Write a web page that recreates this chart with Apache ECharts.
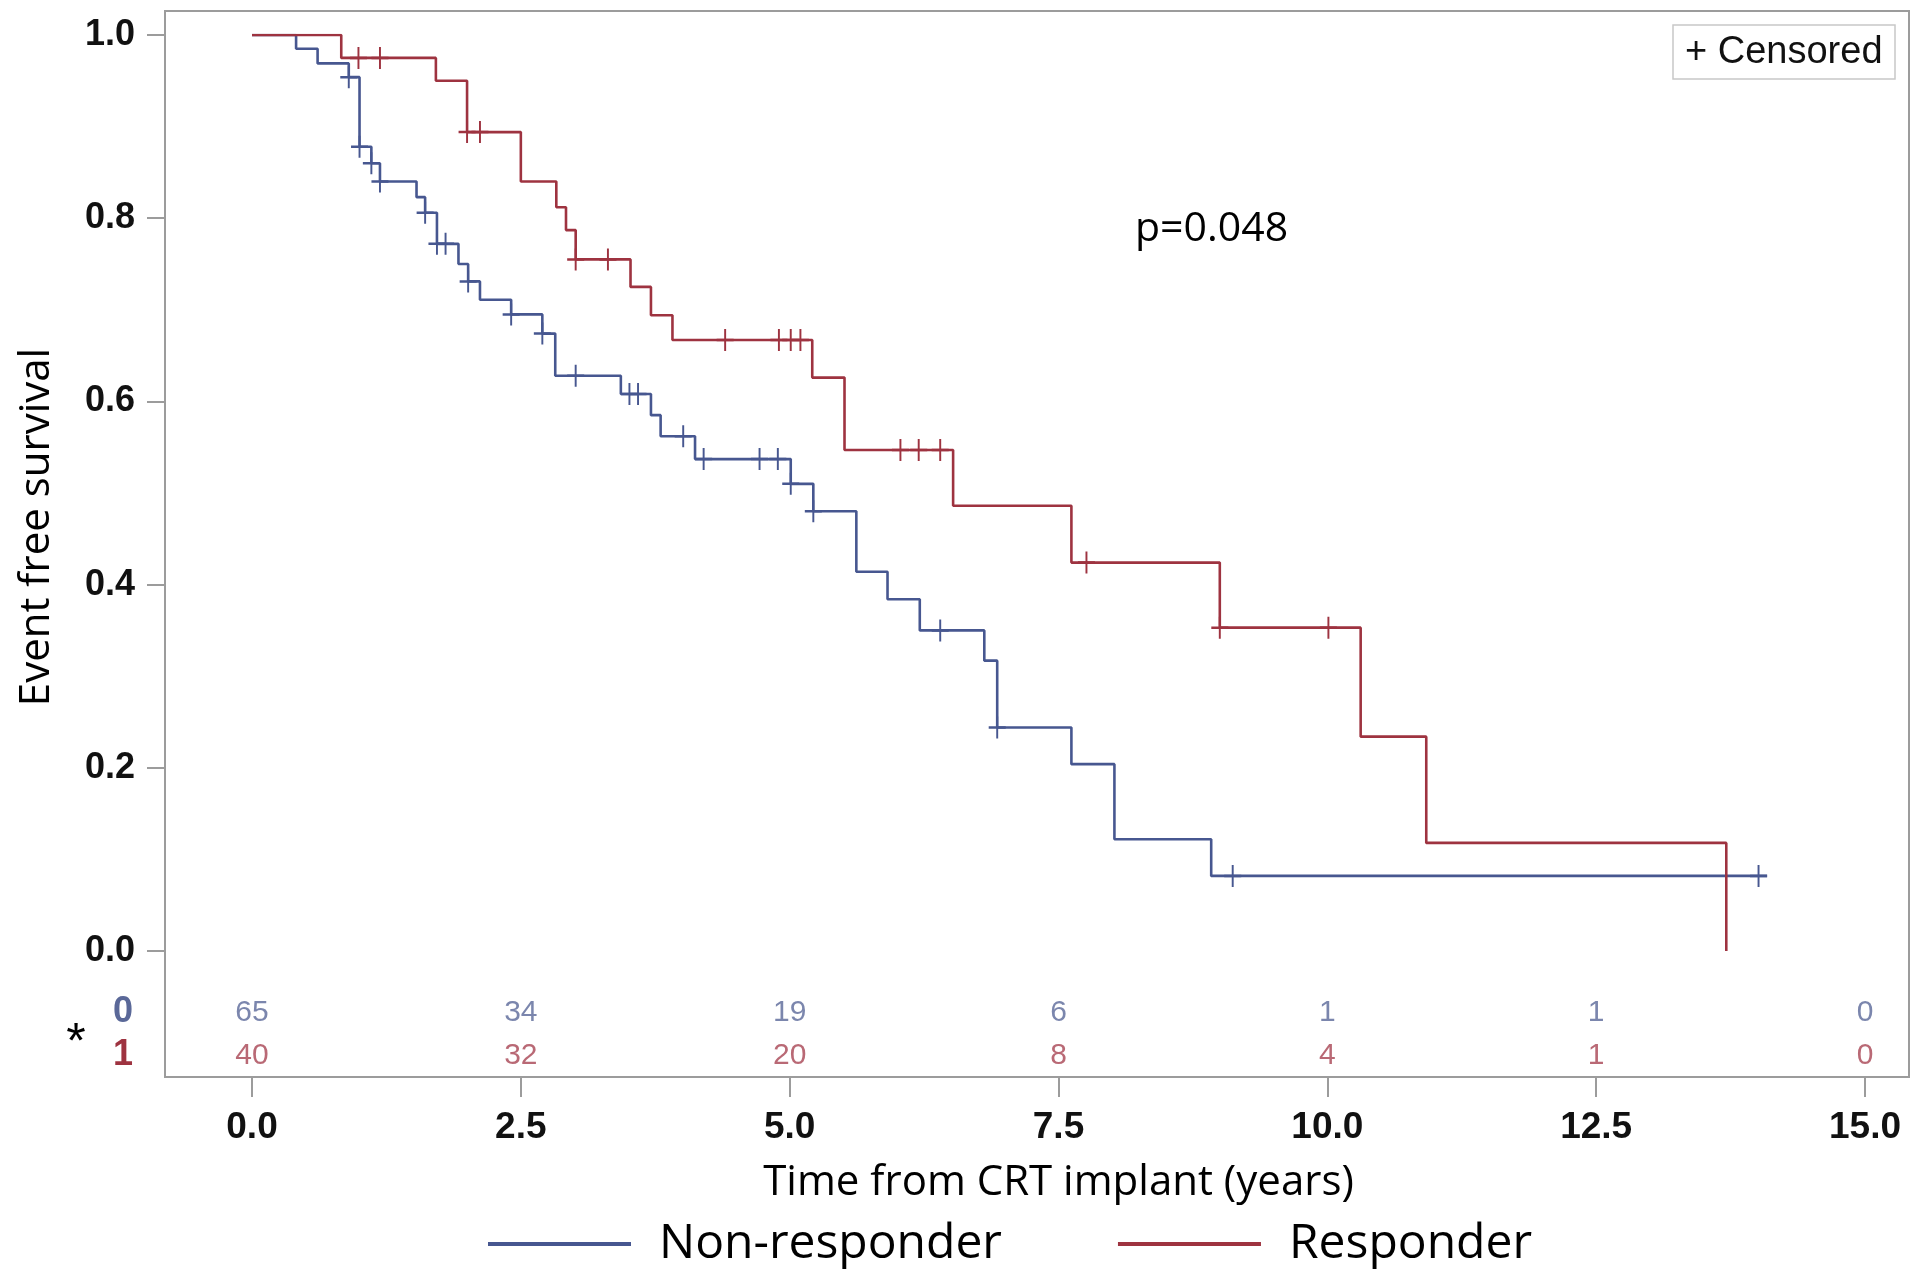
<!DOCTYPE html>
<html><head><meta charset="utf-8">
<script src="https://cdn.jsdelivr.net/npm/echarts@6/dist/echarts.min.js"></script>
<style>html,body{margin:0;padding:0;background:#fff}#c{width:1920px;height:1278px}</style>
</head><body><div id="c"></div>
<script>
// ---- data ----
const seriesNames = ['Non-responder', 'Responder'];
const blueTimes = [0, 0.41, 0.61, 0.90, 1.00, 1.11, 1.19, 1.53, 1.61, 1.72, 1.92, 2.01, 2.12, 2.41, 2.70, 2.82, 3.43, 3.71, 3.80, 4.12, 5.01, 5.22, 5.62, 5.91, 6.21, 6.81, 6.93, 7.62, 8.02, 8.92, 14.09];
const blueSurv  = [1.0, 0.985, 0.969, 0.954, 0.878, 0.860, 0.840, 0.823, 0.806, 0.772, 0.750, 0.731, 0.711, 0.695, 0.674, 0.628, 0.608, 0.585, 0.562, 0.537, 0.510, 0.480, 0.414, 0.384, 0.350, 0.317, 0.244, 0.204, 0.122, 0.082, 0.082];
const blueCensored = [0.90, 1.00, 1.11, 1.19, 1.61, 1.72, 1.80, 2.01, 2.41, 2.70, 3.01, 3.51, 3.59, 4.01, 4.20, 4.72, 4.89, 5.01, 5.22, 6.40, 6.93, 9.12, 14.01];

const redTimes = [0, 0.83, 1.71, 2.00, 2.50, 2.83, 2.92, 3.01, 3.52, 3.71, 3.91, 5.21, 5.51, 6.52, 7.62, 9.00, 10.31, 10.92, 13.71];
const redSurv  = [1.0, 0.975, 0.950, 0.894, 0.840, 0.812, 0.787, 0.755, 0.725, 0.694, 0.667, 0.626, 0.547, 0.486, 0.424, 0.353, 0.234, 0.118, 0.0];
const redCensored = [0.99, 1.19, 2.00, 2.12, 3.01, 3.31, 4.40, 4.90, 5.01, 5.10, 6.03, 6.20, 6.40, 7.76, 9.00, 10.01];

const atRiskTimes = [0, 2.5, 5, 7.5, 10, 12.5, 15];
const atRiskRows = ['0', '1'];
const atRisk0 = [65, 34, 19, 6, 1, 1, 0];
const atRisk1 = [40, 32, 20, 8, 4, 1, 0];

const xTitle = 'Time from CRT implant (years)';
const yTitle = 'Event free survival';
const pText = 'p=0.048';
const censorText = '+ Censored';

// ---- styling ----
const BLUE = '#475790';
const RED = '#9E3340';
const BLUE_T = '#5A6898';
const RED_T = '#A84452';
const GRAY = '#9c9c9c';

function survAt(times, surv, t) {
  let v = surv[0];
  for (let i = 0; i < times.length; i++) {
    if (times[i] <= t + 1e-9) v = surv[i]; else break;
  }
  return v;
}
const pairs = (ts, vs) => ts.map((t, i) => [t, vs[i]]);
const censorPts = (cs, ts, vs) => cs.map(t => [t, survAt(ts, vs, t)]);
const plusPath = 'path://M10,0L10,22M0,11L20,11';

const chart = echarts.init(document.getElementById('c'), null, {renderer: 'canvas'});

const option = {
  animation: false,
  backgroundColor: '#fff',
  grid: [
    {left: 165, top: 11, right: 11, bottom: 201, show: true, borderColor: GRAY, borderWidth: 2, backgroundColor: 'transparent'},
    {left: 252, top: 35, right: 55, bottom: 327},
    {left: 252, top: 991, right: 55, bottom: 201}
  ],
  xAxis: [
    {gridIndex: 0, type: 'value', show: false, min: 0, max: 1},
    {gridIndex: 1, type: 'value', min: 0, max: 15, interval: 2.5, offset: 126,
      axisLine: {show: false, onZero: false}, splitLine: {show: false},
      axisTick: {show: true, length: 20, lineStyle: {color: GRAY, width: 2}},
      axisLabel: {margin: 51, verticalAlign: 'middle', fontFamily: 'Liberation Sans, Arial, sans-serif', fontWeight: 'bold', fontSize: 37, color: '#111',
        formatter: v => v.toFixed(1)},
      name: xTitle, nameLocation: 'middle', nameGap: 106,
      nameTextStyle: {fontFamily: 'Open Sans', fontSize: 42, color: '#000', verticalAlign: 'middle'}
    },
    {gridIndex: 2, type: 'value', show: false, min: 0, max: 15}
  ],
  yAxis: [
    {gridIndex: 0, type: 'value', show: false, min: 0, max: 1},
    {gridIndex: 1, type: 'value', min: 0, max: 1, interval: 0.2, offset: 87,
      axisLine: {show: false, onZero: false}, splitLine: {show: false},
      axisTick: {show: true, length: 18, lineStyle: {color: GRAY, width: 2}},
      axisLabel: {margin: 30, fontFamily: 'Liberation Sans, Arial, sans-serif', fontWeight: 'bold', fontSize: 36, color: '#111',
        formatter: v => v.toFixed(1)}
    },
    {gridIndex: 2, type: 'category', data: atRiskRows, inverse: true,
      axisLine: {show: false, onZero: false}, axisTick: {show: false}, splitLine: {show: false},
      axisLabel: {margin: 119, formatter: (v, i) => '{r' + i + '|' + v + '}',
        rich: {
          r0: {color: BLUE_T, fontFamily: 'Liberation Sans, Arial, sans-serif', fontSize: 36, fontWeight: 'bold'},
          r1: {color: RED, fontFamily: 'Liberation Sans, Arial, sans-serif', fontSize: 36, fontWeight: 'bold'}
        }}
    }
  ],
  legend: {
    data: seriesNames, left: 483, top: 1213, icon: 'rect', itemWidth: 143, itemHeight: 4, itemGap: 116,
    selectedMode: false,
    textStyle: {fontFamily: 'Open Sans', fontSize: 48, color: '#000', padding: [0, 0, 0, 23], lineHeight: 52}
  },
  series: [
    {name: seriesNames[0], type: 'line', step: 'end', xAxisIndex: 1, yAxisIndex: 1, showSymbol: false,
      data: pairs(blueTimes, blueSurv), color: BLUE, lineStyle: {color: BLUE, width: 2.6}, z: 3},
    {name: seriesNames[1], type: 'line', step: 'end', xAxisIndex: 1, yAxisIndex: 1, showSymbol: false,
      data: pairs(redTimes, redSurv), color: RED, lineStyle: {color: RED, width: 2.6}, z: 3},
    {name: 'censor0', type: 'scatter', xAxisIndex: 1, yAxisIndex: 1, symbol: plusPath, symbolSize: [17, 22],
      data: censorPts(blueCensored, blueTimes, blueSurv),
      itemStyle: {color: 'transparent', borderColor: BLUE, borderWidth: 2.2, opacity: 1}, z: 4},
    {name: 'censor1', type: 'scatter', xAxisIndex: 1, yAxisIndex: 1, symbol: plusPath, symbolSize: [17, 22],
      data: censorPts(redCensored, redTimes, redSurv),
      itemStyle: {color: 'transparent', borderColor: RED, borderWidth: 2.2, opacity: 1}, z: 4},
    {name: 'risk0', type: 'scatter', xAxisIndex: 2, yAxisIndex: 2, symbolSize: 1,
      itemStyle: {color: 'transparent'},
      data: atRiskTimes.map((t, i) => [t, atRiskRows[0], atRisk0[i]]),
      label: {show: true, position: 'inside', formatter: p => String(p.value[2]),
        fontFamily: 'Liberation Sans, Arial, sans-serif', fontSize: 30, color: BLUE_T}},
    {name: 'risk1', type: 'scatter', xAxisIndex: 2, yAxisIndex: 2, symbolSize: 1,
      itemStyle: {color: 'transparent'},
      data: atRiskTimes.map((t, i) => [t, atRiskRows[1], atRisk1[i]]),
      label: {show: true, position: 'inside', formatter: p => String(p.value[2]),
        fontFamily: 'Liberation Sans, Arial, sans-serif', fontSize: 30, color: RED_T}}
  ],
  graphic: [
    {type: 'text', x: 37, y: 527, rotation: Math.PI / 2,
      style: {text: yTitle, fontFamily: 'Open Sans', fontSize: 42, fill: '#000', align: 'center', verticalAlign: 'middle'}},
    {type: 'text', x: 1135, y: 229,
      style: {text: pText, fontFamily: 'Open Sans', fontSize: 41, fill: '#000', align: 'left', verticalAlign: 'middle'}},
    {type: 'rect', shape: {x: 1673, y: 25, width: 222, height: 54},
      style: {fill: '#fff', stroke: '#c8c8c8', lineWidth: 1.5}, z: 10},
    {type: 'text', x: 1685, y: 53, z: 11,
      style: {text: censorText, fontFamily: 'Liberation Sans, Arial, sans-serif', fontSize: 38, fill: '#111', align: 'left', verticalAlign: 'middle'}},
    {type: 'text', x: 76, y: 1044,
      style: {text: '*', fontFamily: 'Liberation Sans, Arial, sans-serif', fontSize: 50, fill: '#000', align: 'center', verticalAlign: 'middle'}}
  ]
};
chart.setOption(option);
</script>
</body></html>
